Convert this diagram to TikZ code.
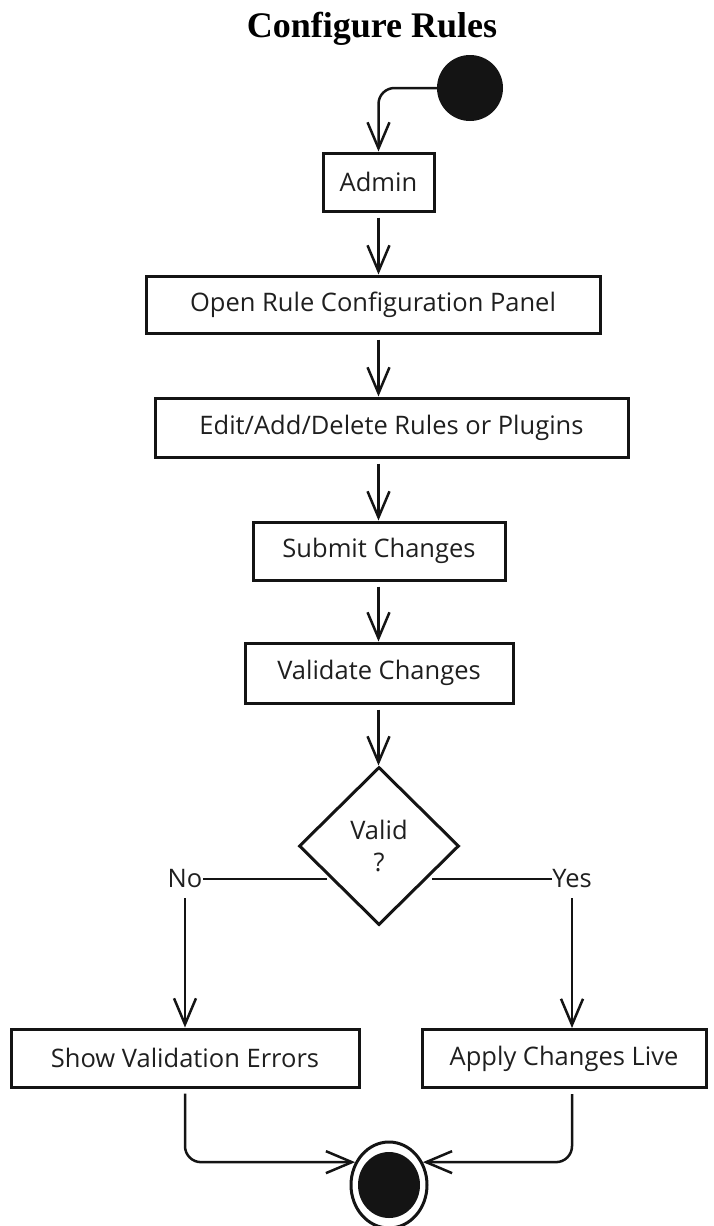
\documentclass[tikz,border=0pt]{standalone}
\usepackage{fontspec}
\setmainfont{Open Sans}
\newfontfamily\titlefont{Liberation Serif}
\usetikzlibrary{arrows.meta,shapes.geometric}
\tikzset{
  every node/.style={font=\fontsize{25.5}{30}\selectfont, text=black!88},
  actbox/.style={draw=black!92, line width=3pt, rectangle, inner sep=0pt},
  flow/.style={draw=black!92, line width=2.5pt,
    -{Straight Barb[length=26pt,width=22pt,line width=2.5pt]}},
  plain/.style={draw=black!92, line width=2.5pt},
}
\begin{document}
\begin{tikzpicture}[x=1pt,y=-1pt]
  \useasboundingbox (0,0) rectangle (714,1226);

  % heading
  \node[anchor=base, font=\titlefont\bfseries\fontsize{36}{40}\selectfont, text=black]
    (title) at (372,37) {Configure Rules};

  % initial state
  \node[circle, fill=black!92, minimum size=66pt, inner sep=0pt] (start) at (470,88) {};

  % activities
  \node[actbox, minimum width=111pt, minimum height=58pt] (admin) at (378.5,182) {Admin};
  \node[actbox, minimum width=454pt, minimum height=57pt] (open) at (373,304.5) {Open Rule Configuration Panel};
  \node[actbox, minimum width=473pt, minimum height=59pt] (edit) at (391.5,427.5) {Edit/Add/Delete Rules or Plugins};
  \node[actbox, minimum width=252pt, minimum height=58pt] (submit) at (379,551) {Submit Changes};
  \node[actbox, minimum width=268pt, minimum height=60pt] (validate) at (379,673) {Validate Changes};

  % decision
  \node[diamond, draw=black!92, line width=3pt, aspect=1, inner sep=0pt,
        minimum width=160pt, minimum height=158pt, align=center] (valid) at (379,846)
        {Valid\\[2pt]?};
  \coordinate (vl) at (327,879);
  \coordinate (vr) at (432,879);
  \node[inner sep=0pt] (no) at (185,879) {No};
  \node[inner sep=0pt] (yes) at (572,879) {Yes};

  % outcomes
  \node[actbox, minimum width=348pt, minimum height=58pt] (show) at (185,1058) {Show Validation Errors};
  \node[actbox, minimum width=284pt, minimum height=58pt] (apply) at (564,1058.5) {Apply Changes Live};

  % final state
  \node[ellipse, draw=black!92, line width=3pt, minimum width=76pt, minimum height=86pt,
        inner sep=0pt] (end) at (389,1185) {};
  \node[ellipse, fill=black!92, minimum width=62pt, minimum height=66pt, inner sep=0pt]
        (endcore) at (389,1185) {};

  % control flow along the main trunk
  \coordinate (trunk) at (378.5,0);
  \draw[flow, rounded corners=16pt] (start.west) -| (admin.north);
  \draw[flow, shorten <=5pt] (admin.south) -- (admin.south |- open.north);
  \draw[flow, shorten <=5pt] (trunk |- open.south) -- (trunk |- edit.north);
  \draw[flow, shorten <=5pt] (trunk |- edit.south) -- (trunk |- submit.north);
  \draw[flow, shorten <=5pt] (trunk |- submit.south) -- (trunk |- validate.north);
  \draw[flow, shorten <=5pt] (trunk |- validate.south) -- (trunk |- valid.north);

  % branches
  \draw[plain] (vl) -- (no.east);
  \draw[plain] (vr) -- (yes.west);
  \draw[flow, shorten <=10pt] (no.south) -- (show.north);
  \draw[flow, shorten <=10pt] (yes.south) -- (apply.north -| yes.south);

  \draw[flow, rounded corners=16pt, shorten <=5pt] (show.south) |- (end.146);
  \draw[flow, rounded corners=16pt, shorten <=5pt] (apply.south -| yes.south) |- (end.34);
\end{tikzpicture}
\end{document}
